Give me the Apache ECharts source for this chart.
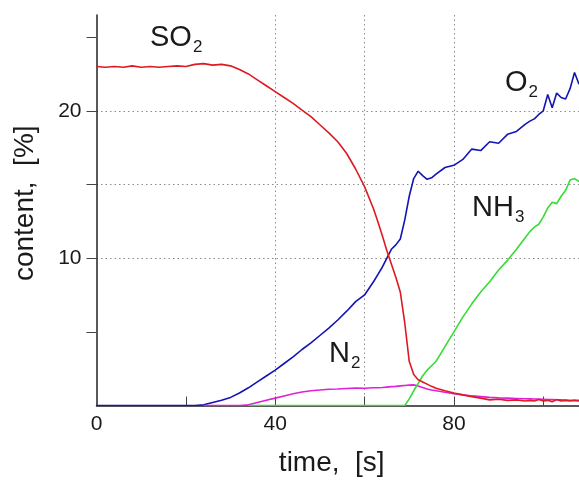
<!DOCTYPE html>
<html>
<head>
<meta charset="utf-8">
<script src="https://cdn.jsdelivr.net/npm/echarts@6/dist/echarts.min.js"></script>
<style>
    html, body { margin: 0; padding: 0; background: #fff; }
    #main { width: 579px; height: 482px; }
</style>
</head>
<body>
<div id="main"></div>
<script>
    // time axis [s], finer steps where the curves move fast
    const time = [
        0, 2, 4, 6, 8, 10, 12, 14, 16, 18, 20, 22, 24, 26, 28, 30,
        32, 34, 36, 38, 40, 42, 44, 46, 48, 50, 52, 54, 56, 58, 60, 62,
        63, 64, 65, 66, 67, 68, 69, 70, 71, 72, 73, 74, 75, 76,
        78, 80, 82, 84, 86, 88, 90, 92, 94, 96,
        97, 98, 99, 100, 101, 102, 103, 104, 105, 106, 107, 108
    ]

    // gas content [%]
    const so2 = [
        23.0, 22.95, 23.0, 22.95, 23.05, 22.95, 23.0, 22.95, 23.0, 23.05, 23.0, 23.15, 23.2, 23.1, 23.15, 23.05,
        22.8, 22.5, 22.1, 21.7, 21.3, 20.9, 20.5, 20.05, 19.6, 19.05, 18.5, 17.9, 17.1, 16.05, 14.85, 13.35,
        12.45, 11.5, 10.5, 9.6, 8.7, 7.7, 5.6, 3.0, 2.1, 1.75, 1.6, 1.45, 1.3, 1.17,
        1.0, 0.85, 0.72, 0.6, 0.5, 0.38, 0.42, 0.35, 0.38, 0.3,
        0.35, 0.3, 0.4, 0.3, 0.35, 0.25, 0.4, 0.3, 0.35, 0.3, 0.35, 0.3
    ]
    const o2 = [
        0, 0, 0, 0, 0, 0, 0, 0, 0, 0, 0, 0, 0.05, 0.2, 0.35, 0.55,
        0.85, 1.2, 1.6, 2.0, 2.4, 2.85, 3.3, 3.8, 4.25, 4.75, 5.25, 5.8, 6.4, 7.05, 7.5, 8.4,
        8.9, 9.4, 10.0, 10.6, 10.9, 11.3, 12.6, 14.2, 15.4, 15.9, 15.6, 15.35, 15.45, 15.7,
        16.15, 16.3, 16.7, 17.4, 17.3, 17.9, 17.8, 18.4, 18.6, 19.1,
        19.3, 19.45, 19.75, 20.0, 21.1, 20.2, 21.2, 20.9, 20.8, 21.5, 22.6, 21.8
    ]
    const n2 = [
        null, null, null, null, null, null, null, null, null, null, null, null, 0, 0, 0, 0,
        0, 0.05, 0.2, 0.35, 0.5, 0.65, 0.8, 0.92, 1.0, 1.05, 1.1, 1.12, 1.15, 1.18, 1.17, 1.2,
        1.2, 1.22, 1.25, 1.28, 1.3, 1.33, 1.36, 1.38, 1.4, 1.32, 1.22, 1.12, 1.05, 1.0,
        0.9, 0.8, 0.72, 0.65, 0.6, 0.55, 0.52, 0.5, 0.48, 0.46,
        0.45, 0.44, 0.43, 0.42, 0.41, 0.4, 0.39, 0.38, 0.37, 0.36, 0.36, 0.35
    ]
    const nh3 = [
        null, null, null, null, null, null, null, null, null, null, null, null, null, null, null, null,
        null, 0, 0, 0, 0, 0, 0, 0, 0, 0, 0, 0, 0, 0, 0, 0,
        0, 0, 0, 0, 0, 0, 0, 0.45, 1.0, 1.5, 2.0, 2.4, 2.7, 3.0,
        4.0, 5.0, 6.0, 6.9, 7.7, 8.4, 9.2, 9.85, 10.6, 11.4,
        11.8, 12.1, 12.3, 12.8, 13.4, 13.8, 13.7, 14.2, 14.6, 15.3, 15.4, 15.2
    ]

    const xLabels = [0, 40, 80]
    const yLabels = [10, 20]

    const font = 'Liberation Sans, Arial, sans-serif'

    function pairs(values) {
        return time.map((t, i) => [t, values[i]])
    }

    function line(name, values, color) {
        return {
            name: name,
            type: 'line',
            data: pairs(values),
            showSymbol: false,
            connectNulls: false,
            animation: false,
            lineStyle: { color: color, width: 1.6 },
            itemStyle: { color: color }
        }
    }

    // chemical formula label with a subscript
    function formula(main, sub, x, y) {
        return {
            type: 'text',
            x: x,
            y: y,
            style: {
                text: '{a|' + main + '}{b|' + sub + '}',
                verticalAlign: 'top',
                rich: {
                    a: { fontSize: 29, lineHeight: 32, fontFamily: font, fill: '#1a1a1a', color: '#1a1a1a' },
                    b: { fontSize: 17, lineHeight: 18, padding: [18, 0, 0, 1], fontFamily: font, fill: '#1a1a1a', color: '#1a1a1a' }
                }
            }
        }
    }

    const dotted = { color: '#8c8c8c', width: 1, type: [1.5, 3] }

    let myChart = echarts.init(document.getElementById('main'))
    let option = {
        backgroundColor: '#fff',
        animation: false,
        grid: {
            left: 96.5,
            right: 0,
            top: 15,
            bottom: 76.5,
            outerBoundsMode: 'none'
        },
        xAxis: {
            type: 'value',
            min: 0,
            max: 108,
            interval: 20,
            name: 'time,  [s]',
            nameLocation: 'middle',
            nameGap: 44,
            nameTextStyle: { fontSize: 28, fontFamily: font, color: '#1a1a1a', padding: [0, 12, 0, 0] },
            axisLine: { show: true, lineStyle: { color: '#222', width: 1.5 } },
            axisTick: { show: true, inside: true, length: 9, customValues: [20, 40, 60, 80, 100], lineStyle: { color: '#444' } },
            axisLabel: {
                fontSize: 21,
                fontFamily: font,
                color: '#1a1a1a',
                margin: 8,
                customValues: xLabels,
                formatter: v => xLabels.indexOf(v) >= 0 ? String(v) : ''
            },
            splitLine: { show: true, showMinLine: false, showMaxLine: false, lineStyle: dotted }
        },
        yAxis: {
            type: 'value',
            min: 0,
            max: 26.5,
            interval: 5,
            name: 'content,  [%]',
            nameLocation: 'middle',
            nameGap: 57,
            nameTextStyle: { fontSize: 28, fontFamily: font, color: '#1a1a1a', padding: [0, 0, 0, 14] },
            axisLine: { show: true, lineStyle: { color: '#222', width: 1.5 } },
            axisTick: { show: true, inside: false, length: 10, customValues: [5, 10, 15, 20, 25], lineStyle: { color: '#444' } },
            axisLabel: {
                fontSize: 21,
                fontFamily: font,
                color: '#1a1a1a',
                margin: 15,
                customValues: yLabels,
                formatter: v => yLabels.indexOf(v) >= 0 ? String(v) : ''
            },
            splitLine: { show: true, showMinLine: false, showMaxLine: false, lineStyle: dotted }
        },
        graphic: [
            formula('SO', '2', 150, 22),
            formula('O', '2', 505, 67),
            formula('NH', '3', 472, 192),
            formula('N', '2', 329, 338)
        ],
        series: [
            line('O2', o2, '#1414b4'),
            line('N2', n2, '#e020d8'),
            line('NH3', nh3, '#33dd33'),
            line('SO2', so2, '#dd1a22')
        ]
    }

    myChart.setOption(option)
</script>
</body>
</html>
